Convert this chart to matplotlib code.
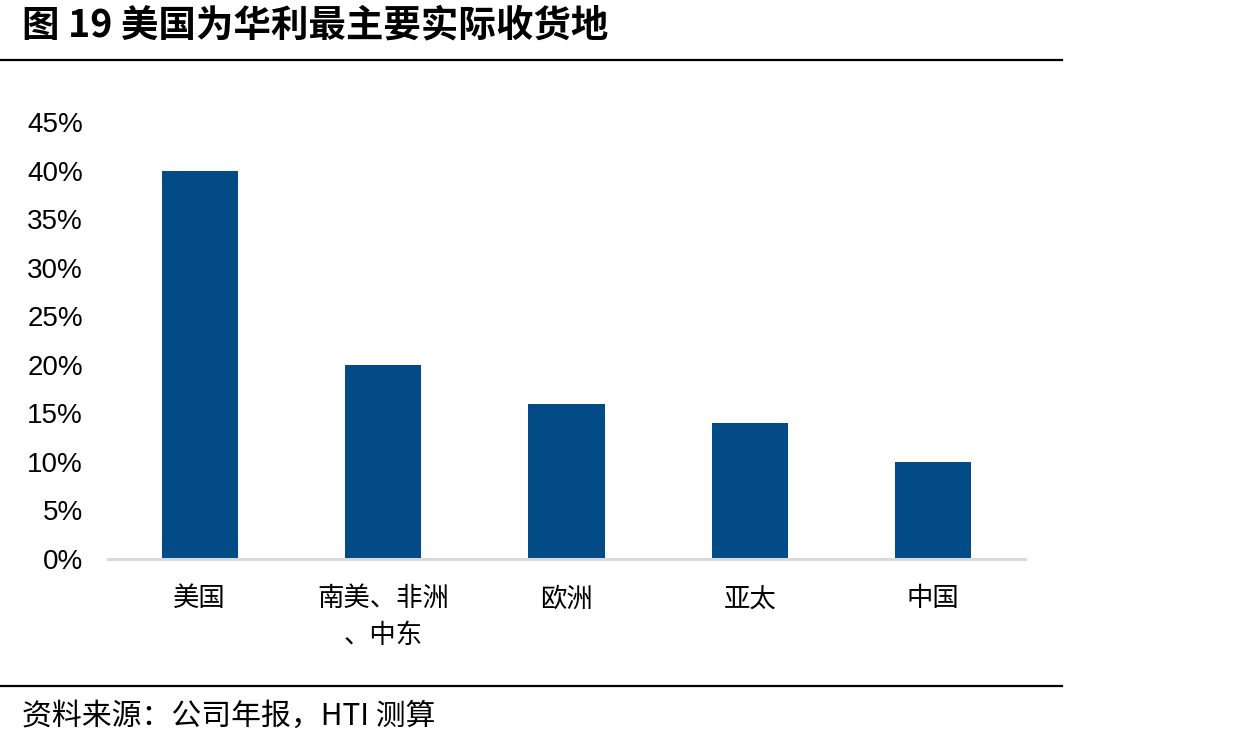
import matplotlib
matplotlib.use("Agg")
import matplotlib.pyplot as plt
from matplotlib.ticker import PercentFormatter

categories = ["美国", "南美、非洲\n、中东", "欧洲", "亚太", "中国"]
values = [40, 20, 16, 14, 10]
yticks = [0, 5, 10, 15, 20, 25, 30, 35, 40, 45]

title = "图 19 美国为华利最主要实际收货地"
source = "资料来源：公司年报，HTI 测算"

W, H = 1235, 747
fig = plt.figure(figsize=(W / 100, H / 100), dpi=100)

cjk = ["Noto Sans CJK SC", "DejaVu Sans"]
latin = ["Liberation Sans", "DejaVu Sans"]

# axes: x from 108 to 1025 px, y 0 at 559 px, 45 at 122.5 px
x0, x1 = 108, 1025
y0, y1 = 559, 122.5
ax = fig.add_axes([x0 / W, 1 - y0 / H, (x1 - x0) / W, (y0 - y1) / H])

pos = list(range(len(categories)))
ax.bar(pos, values, width=0.415, color="#024B87", zorder=2)
ax.set_xlim(-0.5, len(categories) - 0.5)
ax.set_ylim(0, 45)
ax.set_yticks(yticks)
ax.yaxis.set_major_formatter(PercentFormatter(decimals=0))
for lbl in ax.get_yticklabels():
    lbl.set_fontfamily(latin)
    lbl.set_fontsize(20)
ax.tick_params(axis="y", length=0, pad=18)
ax.tick_params(axis="x", length=0, pad=19)
ax.set_xticks(pos)
ax.set_xticklabels(categories, fontfamily=cjk, fontsize=19, linespacing=1.45, va="top")

for s in ["top", "right", "left"]:
    ax.spines[s].set_visible(False)
ax.spines["bottom"].set_color("#d9d9d9")
ax.spines["bottom"].set_linewidth(2.2)
ax.spines["bottom"].set_zorder(3)

fig.text(22 / W, 1 - 25 / H, title, fontfamily=cjk, fontsize=27, fontweight="bold",
         va="center", ha="left")
fig.add_artist(plt.Line2D([0, 1062 / W], [1 - 60 / H, 1 - 60 / H], color="black", lw=1.6))
fig.add_artist(plt.Line2D([0, 1062 / W], [1 - 686 / H, 1 - 686 / H], color="black", lw=1.6))
fig.text(22 / W, 1 - 716 / H, source, fontfamily=cjk, fontsize=21.5, va="center", ha="left")

fig.savefig("out.png", dpi=100, facecolor="white")
